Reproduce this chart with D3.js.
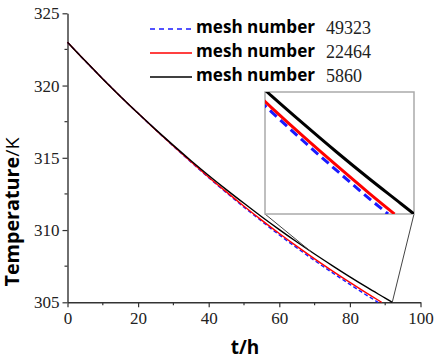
<!DOCTYPE html>
<html>
<head>
<meta charset="utf-8">
<script src="https://cdn.jsdelivr.net/npm/d3@7"></script>
<style>
  body { margin: 0; background: #fff; }
  svg { display: block; }
</style>
</head>
<body>
<div id="chart"></div>
<script>
// time axis (h) and temperatures (K)
var tFine = [0, 5, 10, 15, 20, 25, 30, 35, 40, 45, 50, 55, 60, 65, 70, 75, 80, 85, 90, 92];
var tempMesh5860 = [323.00, 321.71, 320.46, 319.25, 318.08, 316.95, 315.86, 314.80, 313.78, 312.80,
                    311.85, 310.92, 310.03, 309.17, 308.34, 307.54, 306.76, 306.01, 305.29, 305.00];

var tMid = [0, 5, 10, 15, 20, 25, 30, 35, 40, 45, 50, 55, 60, 65, 70, 75, 80, 85, 89];
var tempMesh22464 = [323.00, 321.71, 320.46, 319.25, 318.08, 316.93, 315.81, 314.72, 313.66, 312.64,
                     311.65, 310.69, 309.76, 308.87, 308.01, 307.18, 306.38, 305.60, 305.00];

var tDense = [0, 5, 10, 15, 20, 25, 30, 35, 40, 45, 50, 55, 60, 65, 70, 75, 80, 85, 88];
var tempMesh49323 = [323.00, 321.71, 320.46, 319.25, 318.08, 316.93, 315.80, 314.70, 313.62, 312.59,
                     311.58, 310.61, 309.66, 308.76, 307.89, 307.05, 306.24, 305.45, 305.00];

var legendNames = ["mesh number", "mesh number", "mesh number"];
var legendNumbers = ["49323", "22464", "5860"];
var xTicks = [0, 20, 40, 60, 80, 100];
var yTicks = [305, 310, 315, 320, 325];
var zoomT = [69, 92];
var zoomTemp = [305, 308.45];

var serifFont = "'Liberation Serif', Tinos, 'Times New Roman', Times, 'Noto Serif', 'DejaVu Serif', FreeSerif, serif";

var series = [
  { t: tDense, v: tempMesh49323, color: "#1a1aff", dash: "4,2.5", insetDash: "9,5" },
  { t: tMid, v: tempMesh22464, color: "#ff0000", dash: null, insetDash: null },
  { t: tFine, v: tempMesh5860, color: "#000000", dash: null, insetDash: null }
];

var width = 437, height = 359;
var svg = d3.select("#chart").append("svg")
  .attr("width", width)
  .attr("height", height);

var x = d3.scaleLinear().domain([0, 100]).range([67.5, 420.5]);
var y = d3.scaleLinear().domain([305, 325]).range([302.3, 13.3]);

var axisColor = "#333";

// x axis
var gx = svg.append("g").attr("transform", "translate(0," + y(305) + ")");
gx.call(d3.axisBottom(x).tickValues(xTicks).tickSize(5).tickPadding(5).tickSizeOuter(0));
gx.append("g").selectAll("line")
  .data([10, 30, 50, 70, 90])
  .join("line")
  .attr("x1", function(d) { return x(d); })
  .attr("x2", function(d) { return x(d); })
  .attr("y1", 0).attr("y2", 3);

// y axis
var gy = svg.append("g").attr("transform", "translate(" + x(0) + ",0)");
gy.call(d3.axisLeft(y).tickValues(yTicks).tickSize(5).tickPadding(3).tickSizeOuter(0));
gy.append("g").selectAll("line")
  .data([307.5, 312.5, 317.5, 322.5])
  .join("line")
  .attr("y1", function(d) { return y(d); })
  .attr("y2", function(d) { return y(d); })
  .attr("x1", 0).attr("x2", -3);

svg.selectAll(".domain").attr("stroke", axisColor).attr("stroke-width", 1.4);
svg.selectAll(".tick line").attr("stroke", axisColor).attr("stroke-width", 1.2);
gx.selectAll("g > line").attr("stroke", axisColor).attr("stroke-width", 1.2);
gy.selectAll("g > line").attr("stroke", axisColor).attr("stroke-width", 1.2);
gx.attr("font-family", serifFont).attr("font-size", 17);
gy.attr("font-family", serifFont).attr("font-size", 17);
svg.selectAll(".tick text")
  .style("font-family", serifFont)
  .style("font-size", "17px")
  .attr("fill", "#222");

// axis titles
svg.append("text")
  .attr("x", 245).attr("y", 354)
  .attr("text-anchor", "middle")
  .attr("font-family", "'Open Sans', sans-serif")
  .attr("font-weight", "bold")
  .attr("font-size", 19)
  .text("t/h");

var yTitle = svg.append("text")
  .attr("transform", "translate(19,212) rotate(-90)")
  .attr("text-anchor", "middle")
  .attr("font-family", "'Open Sans', sans-serif")
  .attr("font-size", 19)
  .attr("textLength", 149)
  .attr("lengthAdjust", "spacingAndGlyphs");
yTitle.append("tspan").attr("font-weight", "bold").text("Temperature");
yTitle.append("tspan").text("/K");

// main curves
function makeLine(sx, sy) {
  return function(s) {
    return d3.line()
      .x(function(d, i) { return sx(s.t[i]); })
      .y(function(d) { return sy(d); })
      .curve(d3.curveMonotoneX)(s.v);
  };
}
var mainLine = makeLine(x, y);
svg.append("g").selectAll("path")
  .data(series)
  .join("path")
  .attr("d", mainLine)
  .attr("fill", "none")
  .attr("stroke", function(s) { return s.color; })
  .attr("stroke-width", 1.4)
  .attr("stroke-dasharray", function(s) { return s.dash; });

// inset (zoomed view of the end of the curves)
var ix = d3.scaleLinear().domain(zoomT).range([265, 414]);
var iy = d3.scaleLinear().domain(zoomTemp).range([214, 92]);

svg.append("clipPath").attr("id", "insetClip")
  .append("rect")
  .attr("x", 265).attr("y", 92)
  .attr("width", 149).attr("height", 122);

// connector lines
svg.append("line")
  .attr("x1", 265).attr("y1", 214)
  .attr("x2", x(zoomT[0])).attr("y2", y(308.5))
  .attr("stroke", "#444").attr("stroke-width", 1);
svg.append("line")
  .attr("x1", 414).attr("y1", 214)
  .attr("x2", x(zoomT[1])).attr("y2", y(305))
  .attr("stroke", "#444").attr("stroke-width", 1);

svg.append("rect")
  .attr("x", 265).attr("y", 92)
  .attr("width", 149).attr("height", 122)
  .attr("fill", "#fff")
  .attr("stroke", "#aaa")
  .attr("stroke-width", 1.5);

var insetLine = makeLine(ix, iy);
svg.append("g").attr("clip-path", "url(#insetClip)")
  .selectAll("path")
  .data(series)
  .join("path")
  .attr("d", insetLine)
  .attr("fill", "none")
  .attr("stroke", function(s) { return s.color; })
  .attr("stroke-width", 3)
  .attr("stroke-dasharray", function(s) { return s.insetDash; });

// legend
var legendY = [29, 53, 77];
var lg = svg.append("g");
series.forEach(function(s, i) {
  lg.append("line")
    .attr("x1", 150).attr("x2", 192)
    .attr("y1", legendY[i]).attr("y2", legendY[i])
    .attr("stroke", s.color)
    .attr("stroke-width", 1.5)
    .attr("stroke-dasharray", s.dash ? "5,4" : null);
  lg.append("text")
    .attr("x", 196).attr("y", legendY[i] + 4)
    .attr("font-family", "'Open Sans', sans-serif")
    .attr("font-weight", "bold")
    .attr("font-size", 18)
    .attr("textLength", 119)
    .attr("lengthAdjust", "spacingAndGlyphs")
    .text(legendNames[i]);
  lg.append("text")
    .attr("x", 326).attr("y", legendY[i] + 5)
    .style("font-family", serifFont)
    .style("font-size", "18px")
    .attr("fill", "#222")
    .text(legendNumbers[i]);
});
</script>
</body>
</html>
